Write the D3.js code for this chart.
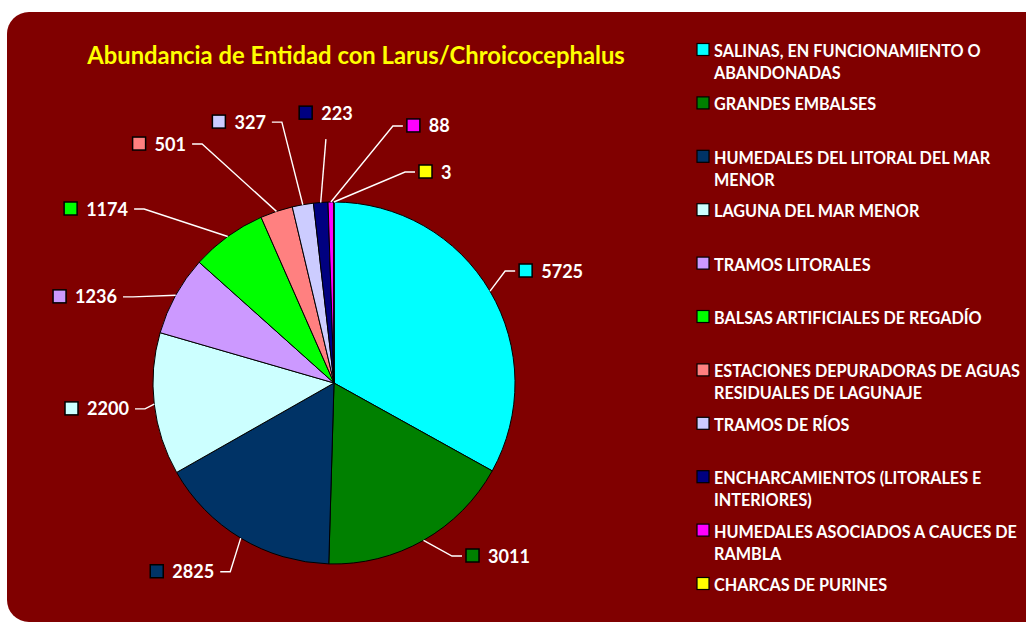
<!DOCTYPE html>
<html>
<head>
<meta charset="utf-8">
<script src="https://cdn.jsdelivr.net/npm/d3@7"></script>
<style>
  html, body { margin: 0; padding: 0; background: #fff; }
  svg { display: block; font-family: Lato, "Open Sans", sans-serif; font-weight: bold; }
</style>
</head>
<body>
<div id="chart"></div>
<script>
const title = 'Abundancia de Entidad con Larus/Chroicocephalus';
const categories = [
  'SALINAS, EN FUNCIONAMIENTO O ABANDONADAS',
  'GRANDES EMBALSES',
  'HUMEDALES DEL LITORAL DEL MAR MENOR',
  'LAGUNA DEL MAR MENOR',
  'TRAMOS LITORALES',
  'BALSAS ARTIFICIALES DE REGADÍO',
  'ESTACIONES DEPURADORAS DE AGUAS RESIDUALES DE LAGUNAJE',
  'TRAMOS DE RÍOS',
  'ENCHARCAMIENTOS (LITORALES E INTERIORES)',
  'HUMEDALES ASOCIADOS A CAUCES DE RAMBLA',
  'CHARCAS DE PURINES'
];
const values = [5725, 3011, 2825, 2200, 1236, 1174, 501, 327, 223, 88, 3];
const colors = ['#00ffff', '#008000', '#003366', '#ccffff', '#cc99ff', '#00ff00',
  '#ff8080', '#ccccff', '#000080', '#ff00ff', '#ffff00'];

// where Excel put each data label's leader elbow: angle (deg, clockwise from top), radius in pie radii
const labelAngle = [56.8, 145.7, 208.8, 262.2, 293.2, 312.5, 331.1, 348.7, 358.1, 12.9, 18.6];
const labelRadius = [1.13, 1.157, 1.19, 1.054, 1.208, 1.423, 1.508, 1.47, 1.348, 1.457, 1.23];

const width = 1026, height = 623;
const cx = 334, cy = 383, r = 181;

const svg = d3.select('#chart').append('svg')
  .attr('width', width).attr('height', height);

svg.append('rect')
  .attr('x', 7).attr('y', 12).attr('width', 1040).attr('height', 610)
  .attr('rx', 22).attr('fill', '#800000');

// title, sized to the reference width
const titleText = svg.append('text')
  .attr('x', 356).attr('y', 64)
  .attr('text-anchor', 'middle')
  .attr('fill', '#ffff00')
  .attr('font-size', 20)
  .text(title);
titleText.attr('font-size', 20 * 538 / titleText.node().getComputedTextLength());

// pie
const pie = d3.pie().sort(null).value((d) => d)
  .startAngle(0).endAngle(2 * Math.PI);
const arcs = pie(values);
const arc = d3.arc().innerRadius(0).outerRadius(r);

const g = svg.append('g').attr('transform', `translate(${cx},${cy})`);
g.selectAll('path').data(arcs).join('path')
  .attr('d', arc)
  .attr('fill', (d, i) => colors[i])
  .attr('stroke', '#000')
  .attr('stroke-width', 1);

// data labels
const polar = (deg, rad) => {
  const a = deg * Math.PI / 180;
  return [rad * Math.sin(a), -rad * Math.cos(a)];
};

let labelSize = 20;
const probe = g.append('text').attr('font-size', labelSize).text('5725');
labelSize = labelSize * 42 / probe.node().getComputedTextLength();
probe.remove();
const capH = labelSize * 0.72;

const labels = g.append('g');
arcs.forEach((d, i) => {
  const mid = (d.startAngle + d.endAngle) / 2 * 180 / Math.PI;
  const p0 = polar(mid, r);
  const elbow = polar(labelAngle[i], labelRadius[i] * r);
  const top = i === 8;
  const right = !top && labelAngle[i] < 180;
  const end = top ? elbow : [elbow[0] + (right ? 10 : -10), elbow[1]];

  labels.append('polyline')
    .attr('points', [p0, elbow, end].map((p) => p.join(',')).join(' '))
    .attr('fill', 'none')
    .attr('stroke', '#fff')
    .attr('stroke-width', 1.4);

  const t = labels.append('text')
    .attr('font-size', labelSize)
    .attr('fill', '#fff')
    .text(values[i]);
  const tw = t.node().getComputedTextLength();
  let sqX, textX, midY = end[1];
  if (top) {
    const total = 14 + 8 + tw;
    sqX = end[0] - total / 2;
    textX = sqX + 22;
    midY = end[1] - 26;
  } else if (right) {
    sqX = end[0] + 4;
    textX = sqX + 22;
  } else {
    textX = end[0] - 6 - tw;
    sqX = textX - 22;
  }
  t.attr('x', textX).attr('y', midY + capH / 2);
  labels.append('rect')
    .attr('x', sqX).attr('y', midY - 7)
    .attr('width', 13).attr('height', 13)
    .attr('fill', colors[i])
    .attr('stroke', '#000')
    .attr('stroke-width', 1.5);
});

// legend
const legend = svg.append('g').attr('transform', 'translate(697,57)');
let legendSize = 15;
const probe2 = legend.append('text').attr('font-size', legendSize).text('ESTACIONES DEPURADORAS DE AGUAS');
legendSize = legendSize * 306 / probe2.node().getComputedTextLength();
probe2.remove();

const step = 53.4, lineH = 22, maxW = 312;
categories.forEach((name, i) => {
  const y = i * step;
  legend.append('rect')
    .attr('x', 0).attr('y', y - 13.5)
    .attr('width', 12).attr('height', 12)
    .attr('fill', colors[i])
    .attr('stroke', '#000')
    .attr('stroke-width', 1.2);
  const t = legend.append('text')
    .attr('x', 17).attr('y', y)
    .attr('font-size', legendSize)
    .attr('fill', '#fff');
  const words = name.split(' ');
  let line = [];
  let ts = t.append('tspan').attr('x', 17).attr('y', y);
  let lineNo = 0;
  words.forEach((w) => {
    line.push(w);
    ts.text(line.join(' '));
    if (ts.node().getComputedTextLength() > maxW && line.length > 1) {
      line.pop();
      ts.text(line.join(' '));
      line = [w];
      lineNo += 1;
      ts = t.append('tspan').attr('x', 17).attr('y', y + lineNo * lineH).text(w);
    }
  });
});
</script>
</body>
</html>
